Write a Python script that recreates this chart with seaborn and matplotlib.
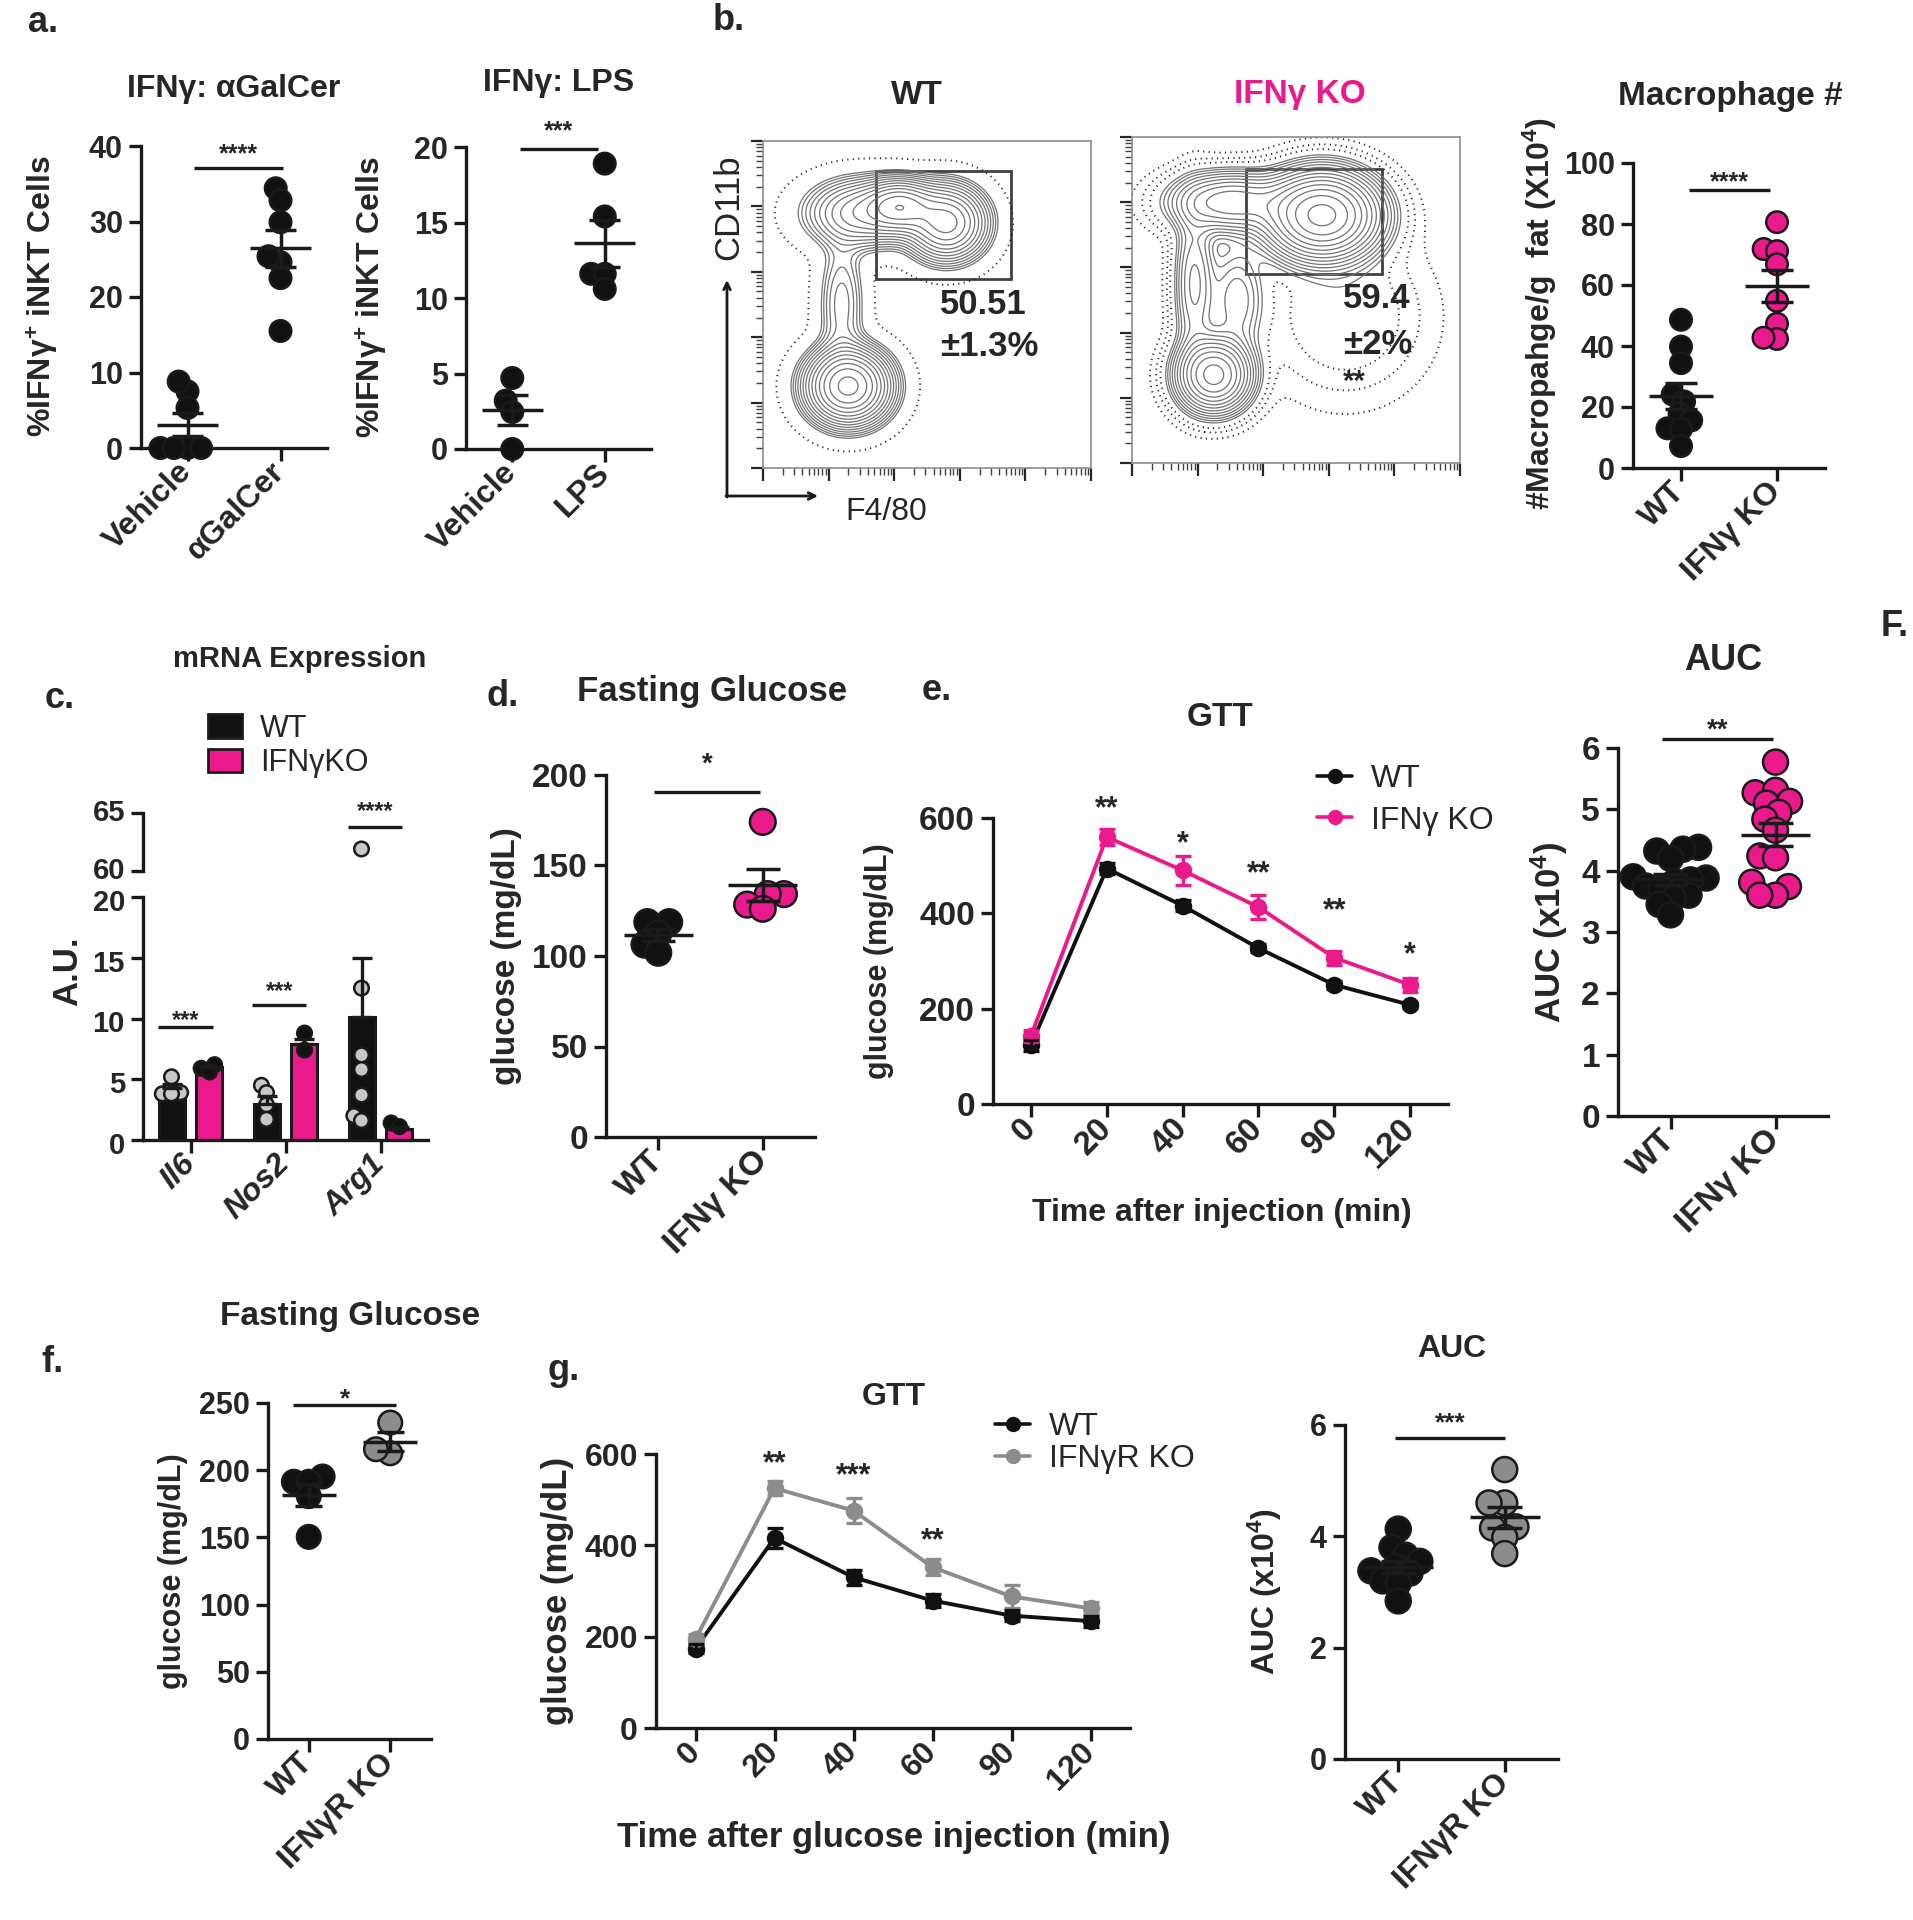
import warnings
import numpy as np
import pandas as pd
import matplotlib
matplotlib.use('Agg')
import matplotlib.pyplot as plt
from matplotlib import font_manager
from matplotlib.patches import Rectangle, Patch
from matplotlib.lines import Line2D
from matplotlib.ticker import LogLocator, NullFormatter
from matplotlib.transforms import ScaledTranslation
import seaborn as sns

warnings.filterwarnings('ignore')

# ---------------- data ----------------
# a. IFNg+ iNKT cells (%)
agal_groups = ['Vehicle', 'αGalCer']
agal_vehicle = [7.5, 8.8, 5.3, 0.0, 0.0, 0.0, 0.0]
agal_treated = [34.4, 32.8, 29.9, 24.6, 25.4, 22.5, 15.5]
lps_groups = ['Vehicle', 'LPS']
lps_vehicle = [4.7, 3.2, 2.45, 0.0]
lps_treated = [18.9, 15.4, 11.6, 11.6, 10.6]

# b. flow populations in log decades: centre x, centre y, spread x, spread y, weight
wt_pop_x = [1.30, 1.20, 1.50, 2.10, 2.80]
wt_pop_y = [1.25, 2.50, 3.90, 4.00, 3.75]
wt_pop_sx = [0.33, 0.20, 0.45, 0.30, 0.32]
wt_pop_sy = [0.30, 0.60, 0.28, 0.22, 0.30]
wt_pop_w = [1.00, 0.10, 0.30, 0.55, 0.60]
ko_pop_x = [1.25, 0.95, 1.60, 1.50, 2.90, 3.25]
ko_pop_y = [1.35, 2.75, 2.50, 4.00, 3.80, 2.25]
ko_pop_sx = [0.30, 0.18, 0.25, 0.50, 0.45, 0.70]
ko_pop_sy = [0.30, 0.70, 0.50, 0.25, 0.35, 0.70]
ko_pop_w = [0.60, 0.12, 0.08, 0.30, 1.00, 0.03]

# b. macrophages / g fat (x10^4)
mac_groups = ['WT', 'IFNγ KO']
mac_wt = [48.6, 39.8, 34.4, 24.1, 21.8, 17.8, 15.6, 13.0, 12.8, 7.2]
mac_ko = [80.6, 71.8, 71.1, 66.8, 54.8, 47.3, 42.3, 42.7]

# c. mRNA expression (A.U.)
genes = ['Il6', 'Nos2', 'Arg1']
c_groups = ['WT', 'IFNγKO']
c_wt_mean = [4.3, 3.0, 10.1]
c_wt_sem = [0.3, 0.6, 4.9]
c_ko_mean = [6.0, 7.9, 0.9]
c_ko_sem = [0.1, 0.4, 0.2]
c_wt_pts = [[5.2, 3.9, 3.8, 3.8], [4.5, 3.9, 2.9, 1.7], [61.9, 12.5, 7.0, 5.8, 3.7, 2.0, 1.6]]
c_ko_pts = [[6.2, 5.9, 5.6], [8.8, 7.4], [1.4, 1.1]]

# d. fasting glucose (mg/dL)
ko_groups = ['WT', 'IFNγ KO']
d_wt = [118.7, 118.7, 112.4, 106.3, 101.8]
d_ko = [174.1, 134.2, 134.2, 128.4, 126.1]

# e. GTT and AUC
gtt_times = ['0', '20', '40', '60', '90', '120']
e_wt_mean = [123, 494, 416, 327, 250, 208]
e_wt_sem = [12, 12, 12, 8, 8, 7]
e_ko_mean = [143, 560, 490, 413, 307, 250]
e_ko_sem = [12, 16, 30, 25, 15, 14]
e_stars = ['', '**', '*', '**', '**', '*']
e_star_y = [0, 631, 558, 494, 416, 324]
e_auc_wt = [4.38, 4.35, 4.32, 4.2, 3.9, 3.88, 3.85, 3.82, 3.75, 3.7, 3.6, 3.55, 3.45, 3.28]
e_auc_ko = [5.77, 5.27, 5.31, 5.13, 5.1, 4.95, 4.84, 4.66, 4.24, 4.21, 3.74, 3.81, 3.6, 3.6]

# f. fasting glucose, IFNgR KO
r_groups = ['WT', 'IFNγR KO']
f_wt = [195.3, 191.4, 191.4, 180.7, 150.4]
f_ko = [235.4, 212.6, 215.6]

# g. GTT and AUC, IFNgR KO
g_wt_mean = [174, 416, 330, 279, 246, 234]
g_wt_sem = [10, 22, 16, 15, 12, 12]
g_ko_mean = [195, 525, 476, 352, 288, 262]
g_ko_sem = [10, 15, 27, 17, 25, 13]
g_stars = ['', '**', '***', '**', '', '']
g_star_y = [0, 591, 564, 421, 0, 0]
g_auc_wt = [4.13, 3.8, 3.66, 3.55, 3.45, 3.38, 3.34, 3.2, 3.16, 2.84]
g_auc_ko = [5.2, 4.6, 4.6, 4.17, 4.15, 3.98, 3.69]

# ---------------- style ----------------
PINK = '#EA1A8C'
GREY = '#8C8C8C'
LIGHT = '#C8C8C8'
BLACK = '#111111'

sns.set_theme(style='ticks')
names = {f.name for f in font_manager.fontManager.ttflist}
BOLD = 'Liberation Sans'
NARROW = 'Liberation Sans Narrow' if 'Liberation Sans Narrow' in names else 'Liberation Sans'
plt.rcParams['font.family'] = [BOLD, 'DejaVu Sans']
plt.rcParams['font.weight'] = 'bold'
plt.rcParams['mathtext.fontset'] = 'custom'
plt.rcParams['mathtext.rm'] = 'Liberation Sans:bold'
plt.rcParams['mathtext.bf'] = 'Liberation Sans:bold'
plt.rcParams['mathtext.it'] = 'Liberation Sans:bold:italic'
plt.rcParams['mathtext.default'] = 'rm'

W, H = 1913, 1920
fig = plt.figure(figsize=(W / 100, H / 100), dpi=100)
fig.patch.set_facecolor('white')
SHRINK = 0.6
swarm_layers = []


def box(x0, y0, x1, y1):
    return fig.add_axes([x0 / W, 1 - y1 / H, (x1 - x0) / W, (y1 - y0) / H])


def ftext(x, y, s, size=22, ha='center', va='center', **kw):
    fig.text(x / W, 1 - y / H, s, fontsize=size, ha=ha, va=va, **kw)


def prism(ax, ylim, yticks, fs=21, family=BOLD):
    for s in ('top', 'right'):
        ax.spines[s].set_visible(False)
    for s in ('left', 'bottom'):
        ax.spines[s].set_linewidth(2.4)
        ax.spines[s].set_color('k')
    ax.set_ylim(*ylim)
    ax.set_yticks(yticks)
    ax.tick_params(axis='both', direction='out', length=9, width=2.4, color='k',
                   labelsize=fs, labelfontfamily=family, pad=4)
    ax.set_xlabel('')
    ax.set_ylabel('')
    ax.set_facecolor('none')


def cat_labels(ax, labels, fs=21, family=BOLD, style='normal', pad=5):
    ax.set_xticks(range(len(labels)))
    ax.set_xticklabels(labels, rotation=45, ha='right', va='center', rotation_mode='anchor',
                       fontsize=fs, fontweight='bold', family=family, fontstyle=style)
    ax.tick_params(axis='x', pad=pad)


def swarm(ax, df, x, order, palette, size, hue=None, hue_order=None, dodge=False, clip=False, lw=1.8):
    before = set(ax.collections)
    sns.swarmplot(data=df, x=x, y='value', hue=hue or x, order=order,
                  hue_order=hue_order or order, palette=palette, dodge=dodge,
                  size=size * SHRINK, linewidth=0, legend=False, ax=ax, warn_thresh=1)
    for coll in ax.collections:
        if coll not in before:
            swarm_layers.append((ax, coll, size, clip, lw))


def star(ax, x, y, s, fs=19):
    ax.annotate(s, (x, y), xytext=(0, -0.45 * fs), textcoords='offset points', ha='center',
                va='baseline', fontsize=fs, fontweight='bold', annotation_clip=False)


def sig(ax, x0, x1, y, ys, s, fs=19):
    ax.plot([x0, x1], [y, y], color='k', lw=2.4, clip_on=False, solid_capstyle='butt')
    star(ax, 0.5 * (x0 + x1), ys, s, fs)


def dot_panel(ax, groups, values, colors, size, ylim, yticks, fs=21, cat_fs=23, family=BOLD, half=0.33):
    df = pd.DataFrame({'group': np.repeat(groups, [len(v) for v in values]),
                       'value': np.concatenate(values)})
    swarm(ax, df, 'group', groups, dict(zip(groups, colors)), size)
    for i, v in enumerate(values):
        m = np.mean(v)
        se = np.std(v, ddof=1) / np.sqrt(len(v))
        ax.hlines(m, i - half, i + half, color='k', lw=2.5, zorder=5)
        ax.vlines(i, m - se, m + se, color='k', lw=2.5, zorder=5)
        ax.hlines([m - se, m + se], i - half / 2, i + half / 2, color='k', lw=2.5, zorder=5)
    prism(ax, ylim, yticks, fs, family)
    ax.set_xlim(-0.5, len(groups) - 0.5)
    cat_labels(ax, groups, fs=cat_fs)


def flow_panel(ax, px, py, sx, sy, w, dotted):
    g = np.linspace(0, 5, 400)
    gx, gy = np.meshgrid(g, g)
    z = np.zeros_like(gx)
    for cx, cy, a, b, k in zip(px, py, sx, sy, w):
        z += k * np.exp(-0.5 * (((gx - cx) / a) ** 2 + ((gy - cy) / b) ** 2))
    ax.contour(10 ** gx, 10 ** gy, z, levels=z.max() * np.array(dotted), colors='0.15',
               linewidths=1.4, linestyles=[(0, (0.6, 2.2))])
    ax.contour(10 ** gx, 10 ** gy, z, levels=z.max() * np.geomspace(0.03, 0.9, 14),
               colors='0.45', linewidths=0.9)
    ax.set_xscale('log')
    ax.set_yscale('log')
    ax.set_xlim(1, 1e5)
    ax.set_ylim(1, 1e5)
    for a in (ax.xaxis, ax.yaxis):
        a.set_major_locator(LogLocator(base=10))
        a.set_minor_locator(LogLocator(base=10, subs=range(2, 10)))
        a.set_major_formatter(NullFormatter())
        a.set_minor_formatter(NullFormatter())
    ax.tick_params(which='major', direction='out', length=9, width=1.6, color='0.15')
    ax.tick_params(which='minor', direction='out', length=5, width=1.0, color='0.25')
    for s in ax.spines.values():
        s.set_color('0.55')
        s.set_linewidth(1.2)


# ---------------- a ----------------
ax = box(141, 146, 327, 448)
dot_panel(ax, agal_groups, [agal_vehicle, agal_treated], [BLACK, BLACK], 15.5,
          (0, 40), range(0, 41, 10), fs=22, family=NARROW)
sig(ax, 0.07, 1.03, 37.1, 39.4, '****', 18)

ax = box(466, 147, 651, 449)
dot_panel(ax, lps_groups, [lps_vehicle, lps_treated], [BLACK, BLACK], 15.5,
          (0, 20), range(0, 21, 5), fs=22, family=NARROW)
sig(ax, 0.08, 0.93, 19.9, 21.3, '***', 18)

ftext(234, 89, 'IFNγ: αGalCer', 23, family=NARROW, fontweight='bold')
ftext(559, 83, 'IFNγ: LPS', 23, family=NARROW, fontweight='bold')
ftext(43, 296, '%IFNγ$^{+}$ iNKT Cells', 23, rotation=90, fontweight='bold')
ftext(372, 297, '%IFNγ$^{+}$ iNKT Cells', 23, rotation=90, fontweight='bold')

# ---------------- b ----------------
ax = box(763, 141, 1091, 468)
flow_panel(ax, wt_pop_x, wt_pop_y, wt_pop_sx, wt_pop_sy, wt_pop_w, [0.004])
ax.add_patch(Rectangle((0.345, 0.578), 0.411, 0.33, transform=ax.transAxes, fill=False,
                       edgecolor='0.25', lw=2))
ax.annotate('', xy=(727 / W, 1 - 280 / H), xytext=(727 / W, 1 - 497 / H), xycoords='figure fraction',
            arrowprops=dict(arrowstyle='->', lw=2, color='k', shrinkA=0, shrinkB=0),
            annotation_clip=False)
ax.annotate('', xy=(818 / W, 1 - 496 / H), xytext=(726 / W, 1 - 496 / H), xycoords='figure fraction',
            arrowprops=dict(arrowstyle='->', lw=2, color='k', shrinkA=0, shrinkB=0),
            annotation_clip=False)

ax = box(1132, 137, 1460, 463)
flow_panel(ax, ko_pop_x, ko_pop_y, ko_pop_sx, ko_pop_sy, ko_pop_w, [0.003, 0.008, 0.015])
ax.add_patch(Rectangle((0.349, 0.58), 0.412, 0.322, transform=ax.transAxes, fill=False,
                       edgecolor='0.25', lw=2))

ftext(917, 95, 'WT', 24, family=NARROW, fontweight='bold')
ftext(1300, 94, 'IFNγ KO', 24, family=NARROW, fontweight='bold', color=PINK)
ftext(940, 304, '50.51', 25, ha='left', family=NARROW, fontweight='bold')
ftext(940, 346, '±1.3%', 25, ha='left', family=NARROW, fontweight='bold')
ftext(1343, 298, '59.4', 25, ha='left', family=NARROW, fontweight='bold')
ftext(1343, 345, '±2%', 25, ha='left', family=NARROW, fontweight='bold')
ftext(1343, 382, '**', 21, ha='left', family=NARROW, fontweight='bold')
ftext(729, 207, 'CD11b', 25, rotation=90, family=NARROW, fontweight='normal')
ftext(886, 512, 'F4/80', 23, family=NARROW, fontweight='normal')

ax = box(1633, 163, 1825, 468)
dot_panel(ax, mac_groups, [mac_wt, mac_ko], [BLACK, PINK], 15.5, (0, 100), range(0, 101, 20), fs=22)
sig(ax, 0.08, 0.93, 91.2, 95, '****', 18)
ftext(1730, 96, 'Macrophage #', 24, fontweight='bold')
ftext(1540, 314, '#Macropahge/g  fat (X10$^{4}$)', 23, rotation=90, fontweight='bold')

# ---------------- c ----------------
bars = pd.DataFrame({'gene': genes * 2, 'group': np.repeat(c_groups, 3),
                     'value': c_wt_mean + c_ko_mean})
pts = pd.DataFrame({
    'gene': np.concatenate([np.repeat(genes, [len(p) for p in c_wt_pts]),
                            np.repeat(genes, [len(p) for p in c_ko_pts])]),
    'group': ['WT'] * sum(len(p) for p in c_wt_pts) + ['IFNγKO'] * sum(len(p) for p in c_ko_pts),
    'value': np.concatenate([np.concatenate(c_wt_pts), np.concatenate(c_ko_pts)]),
})
c_pal = {'WT': BLACK, 'IFNγKO': PINK}
c_pt_pal = {'WT': LIGHT, 'IFNγKO': BLACK}

axb = box(143, 897, 428, 1140)
sns.barplot(data=bars, x='gene', y='value', hue='group', order=genes, hue_order=c_groups,
            palette=c_pal, saturation=1, errorbar=None, width=0.78, gap=0.3, edgecolor='k',
            linewidth=2.2, legend=False, ax=axb)
for cont, sems in zip(axb.containers, [c_wt_sem, c_ko_sem]):
    xs = [p.get_x() + p.get_width() / 2 for p in cont]
    hs = [p.get_height() for p in cont]
    axb.errorbar(xs, hs, yerr=[np.zeros(len(sems)), sems], fmt='none', ecolor='k',
                 elinewidth=2.4, capsize=7, capthick=2.4, zorder=4)
swarm(axb, pts, 'gene', genes, c_pt_pal, 10.5, hue='group', hue_order=c_groups, dodge=True,
      clip=True, lw=1.8)
prism(axb, (0, 20), range(0, 21, 5), fs=21)
axb.set_xlim(-0.5, 2.5)
cat_labels(axb, genes, fs=23, style='italic')
sig(axb, -0.34, 0.24, 9.3, 10.2, '***', 17)
sig(axb, 0.65, 1.22, 11.1, 12.6, '***', 17)

axt = box(143, 813, 428, 871)
swarm(axt, pts, 'gene', genes, c_pt_pal, 10.5, hue='group', hue_order=c_groups, dodge=True,
      clip=True, lw=1.8)
prism(axt, (60, 65), [60, 65], fs=21)
axt.spines['bottom'].set_visible(False)
axt.set_xlim(-0.5, 2.5)
axt.set_xticks([])
# the broken-axis labels "60" and "20" sit close together: lift/drop them slightly
for lab in axt.get_yticklabels():
    lab.set_transform(lab.get_transform() + ScaledTranslation(0, 2 / 72, fig.dpi_scale_trans))
for lab in axb.get_yticklabels():
    lab.set_transform(lab.get_transform() + ScaledTranslation(0, -2 / 72, fig.dpi_scale_trans))
sig(axt, 1.66, 2.23, 63.8, 65.5, '****', 17)

axb.legend(handles=[Patch(facecolor=BLACK, edgecolor='k', lw=2), Patch(facecolor=PINK, edgecolor='k', lw=2)],
           labels=['WT', 'IFNγKO'], loc='center left', bbox_to_anchor=(208 / W, 1 - 746 / H),
           bbox_transform=fig.transFigure, frameon=False, handlelength=1.1, handleheight=0.8,
           handletextpad=0.6, labelspacing=0.15, borderpad=0, borderaxespad=0,
           prop={'size': 22, 'weight': 'normal'})
ftext(300, 659, 'mRNA Expression', 21, fontweight='bold')
ftext(68, 971, 'A.U.', 25, rotation=90, fontweight='bold')

# ---------------- d ----------------
ax = box(606, 775, 815, 1137)
dot_panel(ax, ko_groups, [d_wt, d_ko], [BLACK, PINK], 18.5, (0, 200), range(0, 201, 50),
          fs=24, cat_fs=24)
sig(ax, -0.04, 0.97, 190.5, 209, '*', 20)
ftext(712, 691, 'Fasting Glucose', 25, fontweight='bold')
ftext(506, 956, 'glucose (mg/dL)', 24, rotation=90, fontweight='bold')


# ---------------- e / g line plots ----------------
def gtt_panel(ax, wt_mean, wt_sem, ko_mean, ko_sem, ko_name, ko_color, stars, star_y, fs, family):
    df = pd.DataFrame({'time': gtt_times * 2, 'group': ['WT'] * 6 + [ko_name] * 6,
                       'glucose': wt_mean + ko_mean})
    pal = {'WT': BLACK, ko_name: ko_color}
    for name, m, se in ((ko_name, ko_mean, ko_sem), ('WT', wt_mean, wt_sem)):
        ax.errorbar(range(len(gtt_times)), m, yerr=se, fmt='none', ecolor=pal[name],
                    elinewidth=2.4, capsize=5.5, capthick=2.4, zorder=3)
    sns.pointplot(data=df, x='time', y='glucose', hue='group', order=gtt_times,
                  hue_order=['WT', ko_name], palette=pal, markers='o', markersize=10.5,
                  linewidth=2.8, errorbar=None, legend=False, ax=ax)
    prism(ax, (0, 600), range(0, 601, 200), fs=fs, family=family)
    ax.set_xlim(-0.5, len(gtt_times) - 0.5)
    cat_labels(ax, gtt_times, fs=fs, family=family)
    for i, (s, y) in enumerate(zip(stars, star_y)):
        if s:
            star(ax, i, y, s, 22)


ax = box(993, 818, 1448, 1104)
gtt_panel(ax, e_wt_mean, e_wt_sem, e_ko_mean, e_ko_sem, 'IFNγ KO', PINK, e_stars, e_star_y, 24, BOLD)
ax.legend(handles=[Line2D([], [], color=BLACK, lw=2.6, marker='o', ms=10),
                   Line2D([], [], color=PINK, lw=2.6, marker='o', ms=10)],
          labels=['WT', 'IFNγ KO'], loc='center left', bbox_to_anchor=(1317 / W, 1 - 800 / H),
          bbox_transform=fig.transFigure, frameon=False, handlelength=1.1, handletextpad=0.6,
          labelspacing=0.35, borderpad=0, borderaxespad=0, prop={'size': 23, 'weight': 'normal'})
ftext(1220, 717, 'GTT', 24, fontweight='bold')
ftext(1222, 1213, 'Time after injection (min)', 23, family=NARROW, fontweight='bold')
ftext(879, 961, 'glucose (mg/dL)', 22, rotation=90, fontweight='bold')

ax = box(1618, 748, 1828, 1116)
dot_panel(ax, ko_groups, [e_auc_wt, e_auc_ko], [BLACK, PINK], 18, (0, 6), range(0, 7),
          fs=24, cat_fs=24)
sig(ax, -0.08, 0.98, 6.14, 6.37, '**', 20)
ftext(1723, 661, 'AUC', 26, fontweight='bold')
ftext(1549, 932, 'AUC (x10$^{4}$)', 25, rotation=90, fontweight='bold')

# ---------------- f ----------------
ax = box(268, 1403, 431, 1739)
dot_panel(ax, r_groups, [f_wt, f_ko], [BLACK, GREY], 17, (0, 250), range(0, 251, 50), fs=22)
sig(ax, -0.19, 1.07, 248.2, 256, '*', 19)
ftext(350, 1317, 'Fasting Glucose', 24, fontweight='bold')
ftext(173, 1571, 'glucose (mg/dL)', 22, rotation=90, fontweight='bold')

# ---------------- g ----------------
ax = box(656, 1454, 1130, 1728)
gtt_panel(ax, g_wt_mean, g_wt_sem, g_ko_mean, g_ko_sem, 'IFNγR KO', GREY, g_stars, g_star_y, 23, NARROW)
ax.legend(handles=[Line2D([], [], color=BLACK, lw=2.6, marker='o', ms=10),
                   Line2D([], [], color=GREY, lw=2.6, marker='o', ms=10)],
          labels=['WT', 'IFNγR KO'], loc='center left', bbox_to_anchor=(995 / W, 1 - 1443 / H),
          bbox_transform=fig.transFigure, frameon=False, handlelength=1.1, handletextpad=0.6,
          labelspacing=0.05, borderpad=0, borderaxespad=0, prop={'size': 23, 'weight': 'normal'})
ftext(894, 1397, 'GTT', 23, family=NARROW, fontweight='bold')
ftext(894, 1838, 'Time after glucose injection (min)', 25, family=NARROW, fontweight='bold')
ftext(558, 1591, 'glucose (mg/dL)', 25, rotation=90, family=NARROW, fontweight='bold')

ax = box(1345, 1425, 1558, 1759)
dot_panel(ax, r_groups, [g_auc_wt, g_auc_ko], [BLACK, GREY], 18, (0, 6), range(0, 7, 2), fs=22)
sig(ax, -0.03, 1.0, 5.77, 6.12, '***', 19)
ftext(1452, 1349, 'AUC', 23, fontweight='bold')
ftext(1265, 1592, 'AUC (x10$^{4}$)', 23, rotation=90, fontweight='bold')

# ---------------- panel letters ----------------
for x, y, s in [(43, 22, 'a.'), (729, 20, 'b.'), (60, 698, 'c.'), (503, 697, 'd.'),
                (937, 691, 'e.'), (1895, 626, 'F.'), (53, 1362, 'f.'), (564, 1371, 'g.')]:
    ftext(x, y, s, 26, fontweight='bold')

# freeze swarm layout computed with smaller markers, then draw full-size dots
fig.canvas.draw()
for ax, coll, size, clip, lw in swarm_layers:
    xy = np.asarray(coll.get_offsets())
    fc = coll.get_facecolors()
    coll.remove()
    if len(xy) == 0:
        continue
    ax.scatter(xy[:, 0], xy[:, 1], s=size ** 2, c=[fc[0]] if len(fc) == 1 else fc,
               edgecolors='k', linewidths=lw, zorder=3, clip_on=clip)

fig.savefig('out.png', dpi=100, facecolor='white')
